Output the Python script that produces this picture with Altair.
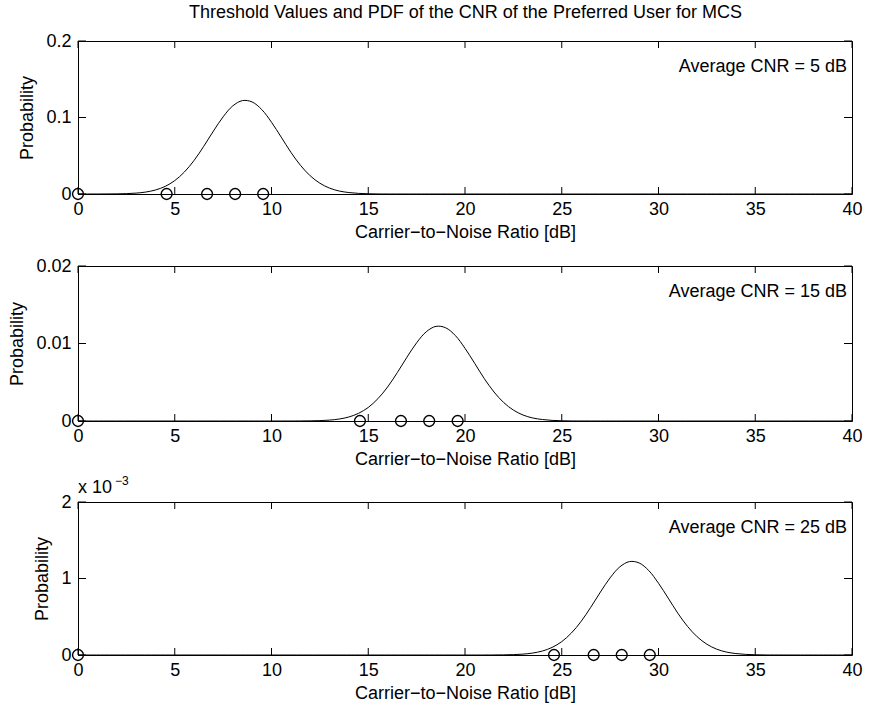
import altair as alt
import pandas as pd

FONT = "Liberation Sans"
FS = 18
W = 774

TITLE = "Threshold Values and PDF of the CNR of the Preferred User for MCS"
XTITLE = "Carrier\u2212to\u2212Noise Ratio [dB]"
YTITLE = "Probability"
XTICKS = [0, 5, 10, 15, 20, 25, 30, 35, 40]

# Panel 1: Average CNR = 5 dB
curve1_x = [0, 0.5, 1, 1.5, 2, 2.5, 3, 3.5, 4, 4.5, 5, 5.5, 6, 6.5, 7, 7.5, 8, 8.5, 9, 9.5,
            10, 10.5, 11, 11.5, 12, 12.5, 13, 13.5, 14, 14.5, 15, 15.5, 16, 17, 40]
curve1_p = [0, 0, 0.00002, 0.00007, 0.0002, 0.0005, 0.00115, 0.00255, 0.0052, 0.0099, 0.0175,
            0.0288, 0.0439, 0.0624, 0.0823, 0.1009, 0.1152, 0.1221, 0.1203, 0.1103, 0.0938,
            0.0744, 0.0546, 0.0374, 0.0238, 0.0141, 0.0077, 0.0039, 0.0019, 0.0008, 0.0003,
            0.0001, 0.00004, 0, 0]
thr1_x = [0, 4.58, 6.67, 8.12, 9.57]
thr1_p = [0, 0, 0, 0, 0]

# Panel 2: Average CNR = 15 dB
curve2_x = [0, 10, 11, 11.5, 12, 12.5, 13, 13.5, 14, 14.5, 15, 15.5, 16, 16.5, 17, 17.5, 18, 18.5,
            19, 19.5, 20, 20.5, 21, 21.5, 22, 22.5, 23, 23.5, 24, 24.5, 25, 25.5, 26, 27, 40]
curve2_p = [0, 0, 0.000002, 0.000007, 0.00002, 0.00005, 0.000115, 0.000255, 0.00052, 0.00099,
            0.00175, 0.00288, 0.00439, 0.00624, 0.00823, 0.01009, 0.01152, 0.01221, 0.01203,
            0.01103, 0.00938, 0.00744, 0.00546, 0.00374, 0.00238, 0.00141, 0.00077, 0.00039,
            0.00019, 0.00008, 0.00003, 0.00001, 0.000004, 0, 0]
thr2_x = [0, 14.57, 16.69, 18.15, 19.62]
thr2_p = [0, 0, 0, 0, 0]

# Panel 3: Average CNR = 25 dB
curve3_x = [0, 20, 21, 21.5, 22, 22.5, 23, 23.5, 24, 24.5, 25, 25.5, 26, 26.5, 27, 27.5, 28, 28.5,
            29, 29.5, 30, 30.5, 31, 31.5, 32, 32.5, 33, 33.5, 34, 34.5, 35, 35.5, 36, 37, 40]
curve3_p = [0, 0, 0.0000002, 0.0000007, 0.000002, 0.000005, 0.0000115, 0.0000255, 0.000052,
            0.000099, 0.000175, 0.000288, 0.000439, 0.000624, 0.000823, 0.001009, 0.001152,
            0.001221, 0.001203, 0.001103, 0.000938, 0.000744, 0.000546, 0.000374, 0.000238,
            0.000141, 0.000077, 0.000039, 0.000019, 0.000008, 0.000003, 0.000001, 0.0000004, 0, 0]
thr3_x = [0, 24.6, 26.65, 28.1, 29.55]
thr3_p = [0, 0, 0, 0, 0]


def panel(cx, cp, tx, tp, ydomain, yticks, ylabel_expr, height, note, exponent=False):
    xs = alt.Scale(domain=[0, 40], nice=False, zero=False)
    ys = alt.Scale(domain=ydomain, nice=False, zero=False)
    xaxis = alt.Axis(values=XTICKS, ticks=False, domain=False, grid=False, labelPadding=6,
                     title=XTITLE, titlePadding=5, labelFlush=False)
    yaxis = alt.Axis(values=yticks, ticks=False, domain=False, grid=False, labelPadding=7,
                     title=YTITLE, titlePadding=9, labelExpr=ylabel_expr)

    curve = alt.Chart(pd.DataFrame({"x": cx, "p": cp})).mark_line(
        color="black", strokeWidth=1, interpolate="catmull-rom"
    ).encode(x=alt.X("x:Q", scale=xs, axis=xaxis), y=alt.Y("p:Q", scale=ys, axis=yaxis))

    pts = alt.Chart(pd.DataFrame({"x": tx, "p": tp})).mark_point(
        shape="circle", filled=False, color="black", size=118, strokeWidth=1.4, opacity=1
    ).encode(x=alt.X("x:Q", scale=xs, axis=xaxis), y=alt.Y("p:Q", scale=ys, axis=yaxis))

    xt = pd.DataFrame({"x": XTICKS})
    xb = alt.Chart(xt).mark_rule(color="black", strokeWidth=1).encode(
        x=alt.X("x:Q", scale=xs, axis=xaxis), y=alt.value(height), y2=alt.value(height - 7))
    xtop = alt.Chart(xt).mark_rule(color="black", strokeWidth=1).encode(
        x=alt.X("x:Q", scale=xs, axis=xaxis), y=alt.value(0), y2=alt.value(7))

    yt = pd.DataFrame({"p": yticks})
    yl = alt.Chart(yt).mark_rule(color="black", strokeWidth=1).encode(
        y=alt.Y("p:Q", scale=ys, axis=yaxis), x=alt.value(0), x2=alt.value(8))
    yr = alt.Chart(yt).mark_rule(color="black", strokeWidth=1).encode(
        y=alt.Y("p:Q", scale=ys, axis=yaxis), x=alt.value(W - 8), x2=alt.value(W))

    txt = alt.Chart(pd.DataFrame({"t": [note]})).mark_text(
        align="right", baseline="middle", fontSize=FS, font=FONT, color="black"
    ).encode(text="t:N", x=alt.value(W - 5), y=alt.value(26))

    layers = [curve, pts, xb, xtop, yl, yr, txt]
    if exponent:
        e1 = alt.Chart(pd.DataFrame({"t": ["x 10"]})).mark_text(
            align="left", baseline="alphabetic", fontSize=FS, font=FONT, color="black"
        ).encode(text="t:N", x=alt.value(0), y=alt.value(-9))
        e2 = alt.Chart(pd.DataFrame({"t": ["\u22123"]})).mark_text(
            align="left", baseline="alphabetic", fontSize=12, font=FONT, color="black"
        ).encode(text="t:N", x=alt.value(37), y=alt.value(-17))
        layers += [e1, e2]
    return alt.layer(*layers).properties(width=W, height=height)


p1 = panel(curve1_x, curve1_p, thr1_x, thr1_p, [0, 0.2], [0, 0.1, 0.2],
           "datum.value == 0 ? '0' : format(datum.value, '.1f')", 153,
           "Average CNR = 5 dB")
p2 = panel(curve2_x, curve2_p, thr2_x, thr2_p, [0, 0.02], [0, 0.01, 0.02],
           "datum.value == 0 ? '0' : format(datum.value, '.2f')", 155,
           "Average CNR = 15 dB")
p3 = panel(curve3_x, curve3_p, thr3_x, thr3_p, [0, 0.002], [0, 0.001, 0.002],
           "format(round(datum.value * 1000), 'd')", 153,
           "Average CNR = 25 dB", exponent=True)

inner = alt.vconcat(p2, p3, spacing=81, bounds="flush")
chart = alt.vconcat(p1, inner, spacing=72, bounds="flush").properties(
    title=alt.TitleParams(TITLE, fontSize=FS, font=FONT, fontWeight="normal", color="black",
                          anchor="middle", offset=10, dx=30),
    padding={"left": 8, "top": 3, "right": 3, "bottom": 0},
    background="white",
).configure_view(stroke="black", strokeWidth=1).configure_axis(
    labelFont=FONT, titleFont=FONT, labelFontSize=FS, titleFontSize=FS,
    labelColor="black", titleColor="black", titleFontWeight="normal"
).configure_concat(spacing=81)

chart.save("out.html", embed_options={"renderer": "svg", "actions": False})
